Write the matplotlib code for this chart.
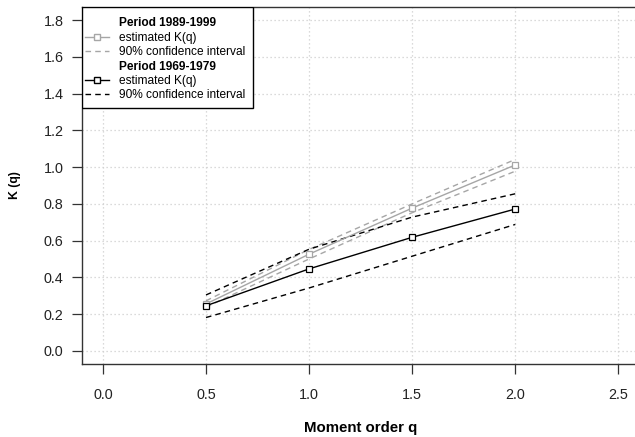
import matplotlib
matplotlib.use("Agg")
import matplotlib.pyplot as plt
from matplotlib.lines import Line2D
from matplotlib.patches import Rectangle
from matplotlib.transforms import Bbox

plt.rcParams['font.family'] = ['Liberation Sans', 'DejaVu Sans']

# Moment orders and scaling function estimates
q = [0.5, 1.0, 1.5, 2.0]

k_recent = [0.255, 0.526, 0.777, 1.012]
k_recent_hi = [0.272, 0.552, 0.800, 1.042]
k_recent_lo = [0.238, 0.500, 0.752, 0.978]

k_early = [0.245, 0.446, 0.618, 0.772]
k_early_hi = [0.304, 0.553, 0.728, 0.855]
k_early_lo = [0.181, 0.342, 0.515, 0.688]

x_ticks = [0.0, 0.5, 1.0, 1.5, 2.0, 2.5]
y_ticks = [0.0, 0.2, 0.4, 0.6, 0.8, 1.0, 1.2, 1.4, 1.6, 1.8]

gray = '#a6a6a6'
W, H = 635, 437

fig = plt.figure(figsize=(W / 100, H / 100), dpi=100)
ax = fig.add_axes([82.3 / W, 1 - 364 / H, (639 - 82.3) / W, (364 - 7) / H])

ax.set_xlim(-0.1, 2.6)
ax.set_ylim(-0.072, 1.872)
ax.set_xticks(x_ticks)
ax.set_yticks(y_ticks)
ax.set_xticklabels([f"{v:.1f}" for v in x_ticks])
ax.set_yticklabels([f"{v:.1f}" for v in y_ticks])

ax.grid(True, color='#cfcfcf', linestyle=(0, (1, 2.2)), linewidth=0.9)
ax.set_axisbelow(True)

# Period 1989-1999
ax.plot(q, k_recent, color=gray, lw=1.0, marker='s', ms=5, mfc='white', mec=gray, mew=0.9, zorder=4)
ax.plot(q, k_recent_hi, color=gray, lw=1.0, ls=(0, (4, 3)), zorder=3)
ax.plot(q, k_recent_lo, color=gray, lw=1.0, ls=(0, (4, 3)), zorder=3)

# Period 1969-1979
ax.plot(q, k_early, color='black', lw=1.0, marker='s', ms=5, mfc='white', mec='black', mew=0.9, zorder=5)
ax.plot(q, k_early_hi, color='black', lw=1.0, ls=(0, (4, 3)), zorder=3)
ax.plot(q, k_early_lo, color='black', lw=1.0, ls=(0, (4, 3)), zorder=3)

for s in ax.spines.values():
    s.set_color('#333333')
    s.set_linewidth(1.0)

ax.tick_params(direction='out', length=7, width=0.9, color='#333333', labelsize=10.4, labelcolor='#222222')
ax.tick_params(axis='x', pad=10.5)
ax.tick_params(axis='y', pad=6.5)

ax.set_xlabel('Moment order q', fontsize=10.8, fontweight='bold')
ax.xaxis.set_label_coords(0.5, -(432 - 364) / (364 - 7), transform=ax.transAxes)
ax.xaxis.label.set_va('baseline')
ax.set_ylabel('K (q)', fontsize=8.8, fontweight='bold')
ax.yaxis.set_label_coords(-(82.3 - 15) / (639 - 82.3), 0.5, transform=ax.transAxes)
ax.yaxis.label.set_va('center')

blank = Line2D([], [], linestyle='none')
handles = [
    blank,
    Line2D([], [], color=gray, lw=1.0, marker='s', ms=4, mfc='white', mec=gray),
    Line2D([], [], color=gray, lw=1.0, ls=(0, (4, 3))),
    blank,
    Line2D([], [], color='black', lw=1.0, marker='s', ms=4, mfc='white', mec='black'),
    Line2D([], [], color='black', lw=1.0, ls=(0, (4, 3))),
]
labels = ['Period 1989-1999', 'estimated K(q)', '90% confidence interval',
          'Period 1969-1979', 'estimated K(q)', '90% confidence interval']

# legend box: tight horizontally, roomier vertically
pad_top, pad_bottom = 8.0, 4.5
box_left, box_top = 82.3, 7
leg = ax.legend(handles, labels, loc='upper left',
                bbox_to_anchor=(box_left / W, 1 - (box_top + pad_top) / H),
                bbox_transform=fig.transFigure, borderaxespad=0, borderpad=0.2,
                fontsize=8.6, frameon=False,
                handlelength=2.0, handletextpad=0.85, labelspacing=0.2)
leg.set_zorder(7)
for i in (0, 3):
    leg.get_texts()[i].set_fontweight('bold')

fig.canvas.draw()
bb = leg.get_window_extent()
bb = Bbox.from_extents(box_left, bb.y0 - pad_bottom, bb.x1 + 6, H - box_top)
rect = Rectangle((bb.x0 / W, bb.y0 / H), bb.width / W, bb.height / H,
                 transform=fig.transFigure, facecolor='white', edgecolor='black',
                 linewidth=1.0, zorder=6)
ax.add_artist(rect)

fig.savefig('out.png', dpi=100)
